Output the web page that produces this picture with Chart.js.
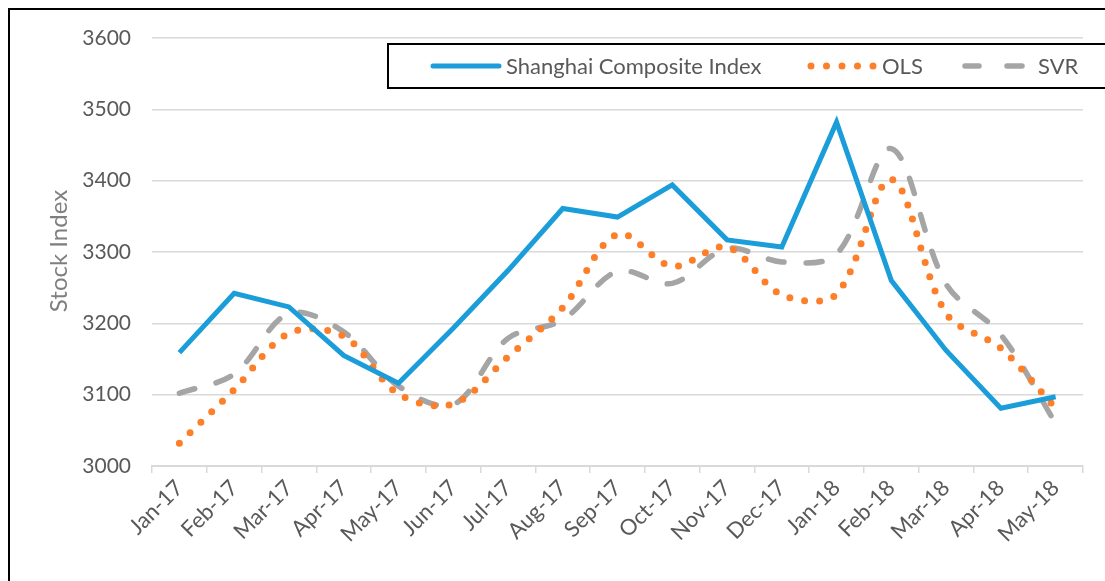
<!DOCTYPE html>
<html>
<head>
<meta charset="utf-8">
<script src="https://cdn.jsdelivr.net/npm/chart.js@4.4.1/dist/chart.umd.min.js"></script>
<style>
  html, body { margin: 0; padding: 0; background: #fff; overflow: hidden; }
  #wrap { position: absolute; left: 0; top: 0; width: 1105px; height: 581px; }
  #frame { position: absolute; left: 8px; top: 8px; width: 1120px; height: 600px; border: 2px solid #000; box-sizing: border-box; pointer-events: none; }
</style>
</head>
<body>
<div id="wrap">
  <canvas id="c" width="1105" height="581"></canvas>
  <div id="frame"></div>
</div>
<script>
const categories = ['Jan-17','Feb-17','Mar-17','Apr-17','May-17','Jun-17','Jul-17','Aug-17','Sep-17','Oct-17','Nov-17','Dec-17','Jan-18','Feb-18','Mar-18','Apr-18','May-18'];
const shanghai = [3159,3242,3223,3155,3116,3193,3274,3361,3349,3394,3317,3307,3482,3260,3162,3081,3097];
const ols      = [3032,3107,3186,3182,3101,3087,3153,3222,3325,3280,3307,3240,3241,3402,3214,3165,3081];
const svr      = [3102,3129,3214,3188,3112,3086,3179,3205,3273,3256,3305,3286,3297,3445,3255,3184,3060];
const yMin = 3000, yMax = 3600, yStep = 100;
const seriesNames = ['Shanghai Composite Index', 'OLS', 'SVR'];
const yTitle = 'Stock Index';

const FONT = 'Lato, "Open Sans", sans-serif';
const BLUE = '#1b9dd9', ORANGE = '#fd7f2a', GREY = '#a5a5a5', TXT = '#595959';

const legendPlugin = {
  id: 'customLegend',
  afterDraw(chart) {
    const ctx = chart.ctx;
    ctx.save();
    ctx.strokeStyle = '#000';
    ctx.lineWidth = 2;
    ctx.strokeRect(388, 44, 740, 44);
    const cy = 66;
    ctx.font = '22px ' + FONT;
    ctx.fillStyle = TXT;
    ctx.textBaseline = 'middle';
    // blue sample
    ctx.beginPath();
    ctx.strokeStyle = BLUE; ctx.lineWidth = 5; ctx.lineCap = 'round';
    ctx.moveTo(433, cy); ctx.lineTo(499, cy); ctx.stroke();
    ctx.fillText(seriesNames[0], 506, cy + 1);
    // orange dots
    ctx.fillStyle = ORANGE;
    for (let i = 0; i < 5; i++) {
      ctx.beginPath(); ctx.arc(811 + i * 15.5, cy, 3.5, 0, Math.PI * 2); ctx.fill();
    }
    ctx.fillStyle = TXT;
    ctx.fillText(seriesNames[1], 882, cy + 1);
    // grey dashes
    ctx.strokeStyle = GREY; ctx.lineWidth = 5.5; ctx.lineCap = 'round';
    ctx.beginPath(); ctx.moveTo(965, cy); ctx.lineTo(979, cy); ctx.stroke();
    ctx.beginPath(); ctx.moveTo(1007, cy); ctx.lineTo(1022, cy); ctx.stroke();
    ctx.fillText(seriesNames[2], 1038, cy + 1);
    // y axis title
    ctx.translate(59, 251);
    ctx.rotate(-Math.PI / 2);
    ctx.textAlign = 'center';
    ctx.font = '24px ' + FONT;
    ctx.fillStyle = '#7f7f7f';
    ctx.fillText(yTitle, 0, 0);
    ctx.restore();
  }
};

new Chart(document.getElementById('c'), {
  type: 'line',
  data: {
    labels: categories,
    datasets: [
      { label: seriesNames[0], data: shanghai, borderColor: BLUE, borderWidth: 5, tension: 0, pointRadius: 0, borderJoinStyle: 'miter', order: 1 },
      { label: seriesNames[1], data: ols, borderColor: ORANGE, borderWidth: 7, borderDash: [0, 15], borderCapStyle: 'round', tension: 0.33, pointRadius: 0, order: 2 },
      { label: seriesNames[2], data: svr, borderColor: GREY, borderWidth: 5.5, borderDash: [16, 22], borderCapStyle: 'round', tension: 0.33, pointRadius: 0, order: 3 }
    ]
  },
  options: {
    responsive: false,
    animation: false,
    devicePixelRatio: 1,
    layout: { padding: { left: 0, top: 38, right: 22, bottom: 0 } },
    plugins: { legend: { display: false }, tooltip: { enabled: false } },
    scales: {
      x: {
        offset: true,
        grid: { display: true, offset: true, drawOnChartArea: false, drawTicks: true, tickLength: 7, color: '#d9d9d9', lineWidth: 1.5 },
        border: { display: true, color: '#d9d9d9', width: 2 },
        ticks: { color: TXT, font: { family: FONT, size: 22 }, maxRotation: 45, minRotation: 45, padding: 2, autoSkip: false },
        afterFit(scale) { scale.height = 115; }
      },
      y: {
        min: yMin, max: yMax,
        grid: { color: '#d9d9d9', lineWidth: 1.5, drawTicks: false },
        border: { display: false },
        ticks: { stepSize: yStep, color: TXT, font: { family: FONT, size: 21 }, padding: 21, callback: v => String(v) },
        afterFit(scale) { scale.width = 152; }
      }
    }
  },
  plugins: [legendPlugin]
});
</script>
</body>
</html>
